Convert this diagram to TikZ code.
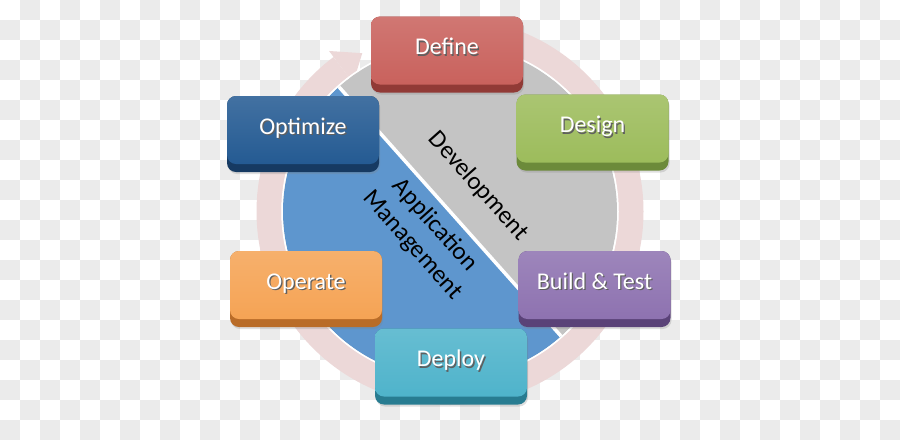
\documentclass[tikz,border=0pt]{standalone}
\usepackage{fontspec}
\setmainfont{Carlito}
\usetikzlibrary{%
   calc,%
   shadows}

\definecolor{checkgray}{RGB}{235,235,235}
\definecolor{ringpink}{RGB}{236,216,216}
\definecolor{devgray}{RGB}{196,196,196}
\definecolor{appblue}{RGB}{94,150,206}
\definecolor{defineface}{RGB}{200,95,90}
\definecolor{definedark}{RGB}{145,58,54}
\definecolor{designface}{RGB}{155,187,89}
\definecolor{designdark}{RGB}{108,138,58}
\definecolor{optimizeface}{RGB}{33,88,145}
\definecolor{optimizedark}{RGB}{22,58,98}
\definecolor{operateface}{RGB}{245,162,82}
\definecolor{operatedark}{RGB}{185,108,40}
\definecolor{buildface}{RGB}{140,112,175}
\definecolor{builddark}{RGB}{90,66,120}
\definecolor{deployface}{RGB}{76,178,202}
\definecolor{deploydark}{RGB}{40,124,145}
\definecolor{txtshade}{RGB}{95,95,95}

\newcommand\embossed[1]{\makebox[0pt][l]{\kern1.3pt\raisebox{-1.5pt}{\color{txtshade}#1}}#1}

\begin{document}
\begin{tikzpicture}
[x=1pt, y=-1pt,
 stage/.style 2 args={rectangle,rounded corners=9pt,inner sep=0pt,
   minimum width=152pt,minimum height=76pt,fill=#2,text=white,
   font=\fontsize{24}{28}\selectfont,text height=12pt,text depth=12pt,
   drop shadow={opacity=0.25,shadow xshift=1pt,shadow yshift=-2pt},
   path picture={\shade[top color=#1!85!white,bottom color=#1,rounded corners=9pt]
     (path picture bounding box.north west) rectangle
     ([yshift=8pt]path picture bounding box.south east);}},
 phase/.style={text=black,align=center,inner sep=0pt,
   font=\fontsize{25}{30}\selectfont},
 ring/.style={ringpink,line width=25pt},
 split/.style={white,line width=3.5pt}]
\useasboundingbox (0,0) rectangle (900,440);
% checkerboard background
\fill[white] (0,0) rectangle (900,440);
\foreach \j in {0,...,21} {
  \pgfmathtruncatemacro\off{20*(1-mod(\j,2))}
  \foreach \i in {0,40,...,880}
    \fill[checkgray] (\i+\off,\j*20) rectangle +(20,20);
}
\coordinate (c) at (450,211.5);
% cycle arrow
\draw[ring] ($(c)+(-90:181)$) arc[start angle=-90,end angle=233,radius=181];
\fill[ringpink] ($(c)+(233:201)$) -- ($(c)+(241:181)$) -- ($(c)+(233:161)$) -- cycle;
% disc
\fill[devgray] (c) circle (167);
\coordinate (splitA) at ($(c)+(228.3:167)$);
\coordinate (splitB) at ($(c)+(48.3:167)$);
\fill[appblue] (splitB) arc[start angle=48.3,end angle=228.3,radius=167] -- cycle;
\draw[white,line width=1.5pt] (c) circle (168);
\draw[split] (splitA) -- (splitB);
\node[phase,rotate=-48.3] (dev) at ($(c)+(-41.7:38)$) {Development};
\node[phase,rotate=-48.3] (app) at ($(c)+(138.3:35.5)$) {Application\\Management};
% stages
\node[stage={defineface}{definedark}]     (define)   at (447,54.5)  {\embossed{Define}};
\node[stage={designface}{designdark}]     (design)   at (592.5,132.5) {\embossed{Design}};
\node[stage={optimizeface}{optimizedark}] (optimize) at (303,134)   {\embossed{Optimize}};
\node[stage={operateface}{operatedark}]   (operate)  at (306,289)   {\embossed{Operate}};
\node[stage={buildface}{builddark}]       (build)    at (594.5,289) {\embossed{Build \& Test}};
\node[stage={deployface}{deploydark}]     (deploy)   at (451,366.5) {\embossed{Deploy}};
\end{tikzpicture}
\end{document}
